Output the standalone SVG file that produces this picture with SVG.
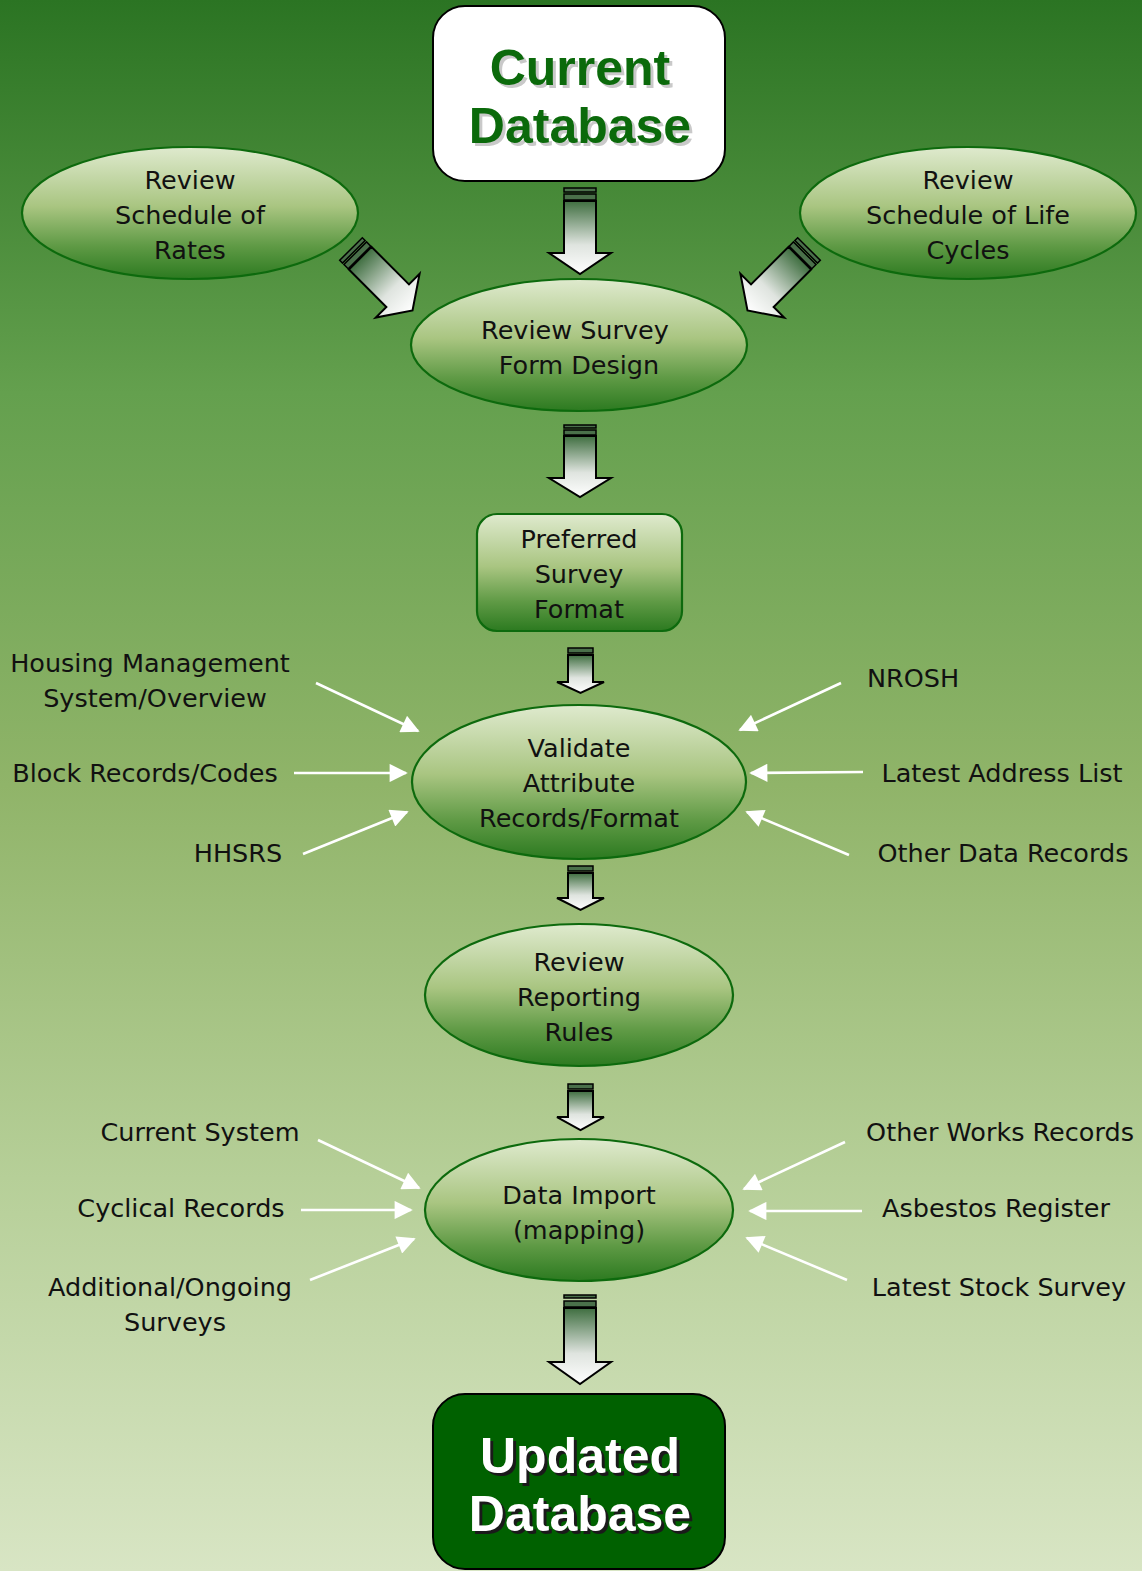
<svg xmlns="http://www.w3.org/2000/svg" width="1142" height="1571" viewBox="0 0 1142 1571">
<defs>
<linearGradient id="bg" x1="0" y1="0" x2="0" y2="1">
<stop offset="0" stop-color="#2b7423"/>
<stop offset="0.25" stop-color="#64a04e"/>
<stop offset="0.5" stop-color="#90b469"/>
<stop offset="0.75" stop-color="#b6cf98"/>
<stop offset="1" stop-color="#d8e5c4"/>
</linearGradient>
<linearGradient id="node" x1="0" y1="0" x2="0" y2="1">
<stop offset="0" stop-color="#dfeace"/>
<stop offset="0.45" stop-color="#a9c581"/>
<stop offset="0.75" stop-color="#5f9a45"/>
<stop offset="1" stop-color="#2c7a20"/>
</linearGradient>
<linearGradient id="arr" x1="0" y1="0" x2="0" y2="1">
<stop offset="0" stop-color="#3f6e40"/>
<stop offset="0.6" stop-color="#dfe4df"/>
<stop offset="1" stop-color="#ffffff"/>
</linearGradient>
<marker id="wh" viewBox="0 0 10 10" refX="9" refY="5" markerWidth="8" markerHeight="7" markerUnits="strokeWidth" orient="auto">
<path d="M0,0 L10,5 L0,10 Z" fill="#ffffff"/>
</marker>
</defs>
<style>
.n{fill:url(#node);stroke:#0d6a0d;stroke-width:2.2}
.t{font-family:"DejaVu Sans",Verdana,sans-serif;font-size:25.5px;fill:#111;text-anchor:middle}
.big{font-family:"Liberation Sans",Arial,sans-serif;font-weight:bold;font-size:50px;text-anchor:middle}
.ba{fill:url(#arr);stroke:#000;stroke-width:2;stroke-linejoin:miter}
.bar{fill:#4a704a;stroke:#000;stroke-width:1.5}
.w{stroke:#fff;stroke-width:2.6;fill:none;marker-end:url(#wh)}
</style>
<rect x="0" y="0" width="1142" height="1571" fill="url(#bg)"/>

<g id="connectors">
<!-- block arrows -->
<g id="ba1">
<rect class="bar" x="564" y="188" width="32" height="4"/>
<rect class="bar" x="564" y="194" width="32" height="6"/>
<path class="ba" d="M564,201 L596,201 L596,253 L611,253 L580,274 L549,253 L564,253 Z"/>
</g>
<g id="ba2">
<rect class="bar" x="564" y="425" width="32" height="3"/>
<rect class="bar" x="564" y="430" width="32" height="5"/>
<path class="ba" d="M564,436 L596,436 L596,478 L611,478 L580,497 L549,478 L564,478 Z"/>
</g>
<g id="ba3">
<rect class="bar" x="568" y="648" width="25" height="5"/>
<path class="ba" d="M568,655 L593,655 L593,682 L604,682 L580.5,693 L557,682 L568,682 Z"/>
</g>
<g id="ba4">
<rect class="bar" x="568" y="866" width="25" height="5"/>
<path class="ba" d="M568,873 L593,873 L593,898 L604,898 L580.5,910 L557,898 L568,898 Z"/>
</g>
<g id="ba5">
<rect class="bar" x="568" y="1084" width="25" height="5"/>
<path class="ba" d="M568,1091 L593,1091 L593,1117 L604,1117 L580.5,1130 L557,1117 L568,1117 Z"/>
</g>
<g id="ba6">
<rect class="bar" x="564" y="1295" width="32" height="3"/>
<rect class="bar" x="564" y="1301" width="32" height="6"/>
<path class="ba" d="M564,1308 L596,1308 L596,1362 L611,1362 L580,1384 L549,1362 L564,1362 Z"/>
</g>
<g id="ba-left" transform="translate(351,249) rotate(-45)">
<rect class="bar" x="-16" y="0" width="32" height="4"/>
<rect class="bar" x="-16" y="6" width="32" height="6"/>
<path class="ba" d="M-16,13 L16,13 L16,66 L31,66 L0,87 L-31,66 L-16,66 Z"/>
</g>
<g id="ba-right" transform="translate(809,249) rotate(45)">
<rect class="bar" x="-16" y="0" width="32" height="4"/>
<rect class="bar" x="-16" y="6" width="32" height="6"/>
<path class="ba" d="M-16,13 L16,13 L16,66 L31,66 L0,87 L-31,66 L-16,66 Z"/>
</g>
<!-- thin white arrows -->
<line class="w" x1="316" y1="683" x2="418" y2="731"/>
<line class="w" x1="294" y1="773" x2="406" y2="773"/>
<line class="w" x1="303" y1="854" x2="407" y2="812"/>
<line class="w" x1="841" y1="683" x2="740" y2="730"/>
<line class="w" x1="863" y1="772" x2="751" y2="773"/>
<line class="w" x1="849" y1="855" x2="747" y2="812"/>
<line class="w" x1="318" y1="1140" x2="419" y2="1188"/>
<line class="w" x1="301" y1="1210" x2="411" y2="1210"/>
<line class="w" x1="310" y1="1280" x2="414" y2="1239"/>
<line class="w" x1="845" y1="1142" x2="744" y2="1189"/>
<line class="w" x1="862" y1="1211" x2="750" y2="1211"/>
<line class="w" x1="847" y1="1280" x2="747" y2="1238"/>
</g>

<g id="current-db">
<rect x="433" y="6" width="292" height="175" rx="32" fill="#fff" stroke="#000" stroke-width="2"/>
<text class="big" x="583" y="88" fill="#c9c9c9">Current</text>
<text class="big" x="580" y="85" fill="#0b6a0b">Current</text>
<text class="big" x="583" y="146" fill="#c9c9c9">Database</text>
<text class="big" x="580" y="143" fill="#0b6a0b">Database</text>
</g>
<g id="review-rates">
<ellipse class="n" cx="190" cy="213" rx="168" ry="66"/>
<text class="t" x="190" y="189">Review</text>
<text class="t" x="190" y="224">Schedule of</text>
<text class="t" x="190" y="259">Rates</text>
</g>
<g id="review-life">
<ellipse class="n" cx="968" cy="213" rx="168" ry="66"/>
<text class="t" x="968" y="189">Review</text>
<text class="t" x="968" y="224">Schedule of Life</text>
<text class="t" x="968" y="259">Cycles</text>
</g>
<g id="review-survey">
<ellipse class="n" cx="579" cy="345" rx="168" ry="66"/>
<text class="t" x="575" y="339">Review Survey</text>
<text class="t" x="579" y="374">Form Design</text>
</g>
<g id="preferred">
<rect class="n" x="477" y="514" width="205" height="117" rx="20"/>
<text class="t" x="579" y="548">Preferred</text>
<text class="t" x="579" y="583">Survey</text>
<text class="t" x="579" y="618">Format</text>
</g>
<g id="validate">
<ellipse class="n" cx="579" cy="782" rx="167" ry="77"/>
<text class="t" x="579" y="757">Validate</text>
<text class="t" x="579" y="792">Attribute</text>
<text class="t" x="579" y="827">Records/Format</text>
</g>
<g id="reporting">
<ellipse class="n" cx="579" cy="995" rx="154" ry="71"/>
<text class="t" x="579" y="971">Review</text>
<text class="t" x="579" y="1006">Reporting</text>
<text class="t" x="579" y="1041">Rules</text>
</g>
<g id="import">
<ellipse class="n" cx="579" cy="1210" rx="154" ry="71"/>
<text class="t" x="579" y="1204">Data Import</text>
<text class="t" x="579" y="1239">(mapping)</text>
</g>
<g id="updated-db">
<rect x="433" y="1394" width="292" height="175" rx="32" fill="#006100" stroke="#000" stroke-width="2"/>
<text class="big" x="583" y="1476" fill="#1a1a1a">Updated</text>
<text class="big" x="580" y="1473" fill="#fff">Updated</text>
<text class="big" x="583" y="1534" fill="#1a1a1a">Database</text>
<text class="big" x="580" y="1531" fill="#fff">Database</text>
</g>

<g id="labels">
<text class="t" x="150" y="672">Housing Management</text>
<text class="t" x="155" y="707">System/Overview</text>
<text class="t" x="145" y="782">Block Records/Codes</text>
<text class="t" x="238" y="862">HHSRS</text>
<text class="t" x="913" y="687">NROSH</text>
<text class="t" x="1002" y="782">Latest Address List</text>
<text class="t" x="1003" y="862">Other Data Records</text>
<text class="t" x="200" y="1141">Current System</text>
<text class="t" x="181" y="1217">Cyclical Records</text>
<text class="t" x="170" y="1296">Additional/Ongoing</text>
<text class="t" x="175" y="1331">Surveys</text>
<text class="t" x="1000" y="1141">Other Works Records</text>
<text class="t" x="996" y="1217">Asbestos Register</text>
<text class="t" x="999" y="1296">Latest Stock Survey</text>
</g>
</svg>
